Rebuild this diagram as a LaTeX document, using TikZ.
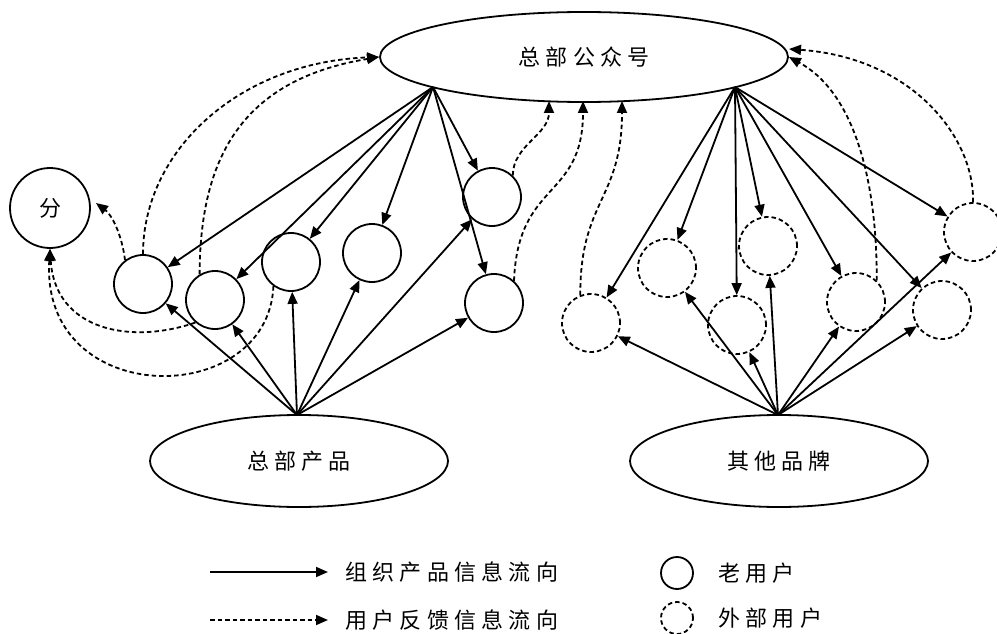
\documentclass[tikz,border=0pt]{standalone}
\usepackage{fontspec}
\newfontfamily\cjk[LetterSpace=24]{Noto Sans CJK SC}
\usetikzlibrary{arrows.meta,shapes.geometric}
\begin{document}
\begin{tikzpicture}[x=1pt,y=-1pt,
  every node/.style={font=\cjk\fontsize{22}{22}\selectfont},
  ln/.style={line width=1.8pt},
  flow/.style={ln, -{Triangle[length=12pt,width=10pt]}},
  fb/.style={flow, dash pattern=on 4.5pt off 3pt},
  olduser/.style={circle, draw, line width=1.8pt, minimum size=58pt, inner sep=0pt},
  extuser/.style={olduser, dash pattern=on 4.5pt off 3pt},
  bigell/.style={ellipse, draw, line width=1.8pt, inner sep=0pt},
  legtext/.style={anchor=west, inner sep=0pt}]
\useasboundingbox (0,0) rectangle (997,634);

% main ellipses
\node[bigell, minimum width=408pt, minimum height=90pt] (top) at (584,57) {总部公众号};
\node[bigell, minimum width=298pt, minimum height=92pt] (hq) at (299,461) {总部产品};
\node[bigell, minimum width=298pt, minimum height=92pt] (ob) at (779,461) {其他品牌};

% old users
\node[olduser, minimum size=80pt] (fen) at (50,208) {分};
\node[olduser] (C1) at (143,284) {};
\node[olduser] (C2) at (215,300) {};
\node[olduser] (C3) at (291,262) {};
\node[olduser] (C4) at (372,253) {};
\node[olduser] (C5) at (492,197) {};
\node[olduser] (C6) at (494,303) {};

% external users
\node[extuser] (D1) at (591,323) {};
\node[extuser] (D2) at (667,268) {};
\node[extuser] (D3) at (737,325) {};
\node[extuser] (D4) at (768,246) {};
\node[extuser] (D5) at (856,302) {};
\node[extuser] (D6) at (942,310) {};
\node[extuser] (D7) at (973,232) {};

% fan points
\coordinate (tL) at (433,87);
\coordinate (tR) at (735,87);
\coordinate (bL) at (297,415);
\coordinate (bR) at (778,415);

% product information flows
\foreach \c in {C1,C2,C3,C4,C5,C6} {
  \draw[flow] (tL) -- (\c);
  \draw[flow] (bL) -- (\c);
}
\foreach \c in {D1,D2,D3,D4,D5,D6,D7} {
  \draw[flow] (tR) -- (\c);
  \draw[flow] (bR) -- (\c);
}

% feedback targets
\coordinate (f1) at (96,203);
\coordinate (t1) at (549,101);
\coordinate (t2) at (583,101);
\coordinate (t3) at (622,101);
\coordinate (t4) at (789,49);

% feedback flows
\draw[fb] (C1.north) .. controls (143,150) and (240,62) .. (top.west);
\draw[fb] (C2.121) .. controls (200,160) and (240,80) .. (top.west);
\draw[fb] (C1.127) .. controls (122,235) and (112,215) .. (f1);
\draw[fb] (C2.229) .. controls (130,345) and (55,330) .. (fen.south);
\draw[fb] (C3.234) .. controls (268,410) and (40,410) .. (fen.south);
\draw[fb] (C5.46) .. controls (513,145) and (549,135) .. (t1);
\draw[fb] (C6.48) .. controls (518,180) and (583,200) .. (t2);
\draw[fb] (D1.111) .. controls (580,200) and (622,200) .. (t3);
\draw[fb] (D5.46) .. controls (877,170) and (850,90) .. (top.east);
\draw[fb] (D7.north) .. controls (975,140) and (915,58) .. (t4);

% legend
\coordinate (a1) at (210,572);
\coordinate (a2) at (328,572);
\coordinate (b1) at (210,620);
\coordinate (b2) at (328,620);
\draw[flow] (a1) -- (a2);
\draw[fb] (b1) -- (b2);
\node[legtext] (l1) at (345,572) {组织产品信息流向};
\node[legtext] (l2) at (345,620) {用户反馈信息流向};
\node[olduser, minimum size=32pt] (lc1) at (677,573) {};
\node[extuser, minimum size=32pt] (lc2) at (677,618) {};
\node[legtext] (l3) at (718,573) {老用户};
\node[legtext] (l4) at (718,618) {外部用户};
\end{tikzpicture}
\end{document}
